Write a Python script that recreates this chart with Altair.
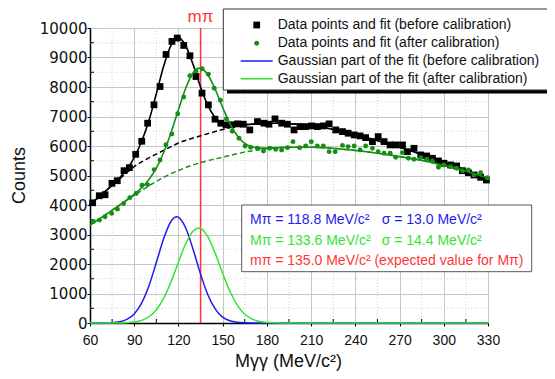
import altair as alt
import pandas as pd

# ---------------- data ----------------
black_x = [61.8, 66.3, 70.2, 74.9, 78.5, 83.1, 86.7, 91.0, 95.1, 99.1,
           103.4, 107.5, 111.6, 115.6, 119.2, 123.6, 127.8, 131.9, 136.0, 140.3,
           144.8, 148.7, 152.3, 156.2, 160.0, 164.0, 168.4, 173.6, 178.0, 181.4,
           185.5, 190.0, 193.9, 198.4, 202.5, 206.3, 210.4, 214.3, 218.3, 222.2,
           226.7, 231.3, 235.1, 239.2, 243.2, 247.0, 251.6, 255.5, 259.5, 263.6,
           267.4, 272.0, 275.3, 279.8, 284.4, 288.4, 292.3, 296.4, 300.1, 304.6,
           308.7, 312.6, 316.7, 320.5, 325.0, 328.9]
black_y = [4076, 4314, 4348, 4735, 4823, 5163, 5265, 5719, 6161, 6773,
           7395, 8016, 9103, 9545, 9660, 9409, 9059, 8356, 7792, 7395,
           6909, 6773, 6715, 6720, 6750, 6739, 6545, 6827, 6773, 6739,
           6919, 6773, 6739, 6545, 6658, 6658, 6681, 6658, 6681, 6750,
           6545, 6488, 6433, 6375, 6342, 6284, 6148, 6318, 6148, 6036,
           6036, 6036, 5808, 5922, 5697, 5662, 5584, 5493, 5415, 5357,
           5323, 5163, 5095, 5017, 4939, 4847]

green_x = [62.3, 66.4, 70.2, 74.7, 78.6, 82.8, 87.0, 91.3, 95.3, 99.1,
           103.5, 107.5, 111.5, 115.5, 119.5, 123.6, 127.8, 131.9, 136.1, 140.3,
           144.3, 148.5, 152.5, 156.5, 161.1, 165.2, 169.0, 173.6, 177.7, 181.9,
           186.0, 190.0, 193.9, 197.7, 202.2, 206.3, 210.1, 214.2, 218.3, 222.2,
           226.3, 231.3, 235.1, 239.2, 243.2, 247.0, 251.6, 255.5, 259.5, 263.6,
           267.4, 272.0, 276.0, 279.8, 284.4, 288.4, 292.3, 296.4, 300.1, 304.6,
           308.7, 312.6, 316.7, 320.5, 325.0, 329.6]
green_y = [3443, 3489, 3601, 3716, 3860, 4050, 4250, 4390, 4670, 4690,
           5200, 5527, 6040, 6405, 7095, 7660, 8380, 8540, 8617, 8430,
           7960, 7550, 6920, 6500, 6263, 6002, 5958, 5924, 5832, 5924,
           5890, 5866, 5944, 6148, 5944, 6002, 6148, 6002, 6002, 5808,
           5808, 6020, 5980, 6002, 5866, 6002, 5922, 5808, 5752, 5752,
           5618, 5775, 5584, 5550, 5605, 5550, 5493, 5279, 5357, 5300,
           5245, 5163, 5187, 5017, 5095, 4925]

fit_black_x = [60, 65, 70, 75, 80, 85, 90, 95, 100, 105, 110, 115, 119, 125, 130,
               135, 140, 145, 150, 155, 160, 170, 180, 190, 200, 210, 220, 230,
               240, 250, 260, 270, 280, 290, 300, 310, 320, 330]
fit_black_y = [4000, 4230, 4450, 4670, 4920, 5210, 5610, 6150, 6865, 7770, 8710, 9420,
               9690, 9390, 8755, 8000, 7370, 6960, 6760, 6700, 6705, 6740, 6770, 6770,
               6740, 6690, 6610, 6510, 6390, 6250, 6110, 5960, 5800, 5630, 5450, 5270,
               5080, 4880]

bg_x = [60, 70, 80, 90, 100, 110, 120, 130, 140, 150, 160, 170, 180, 190, 200,
        210, 220, 230, 240, 250, 260, 270, 280, 290, 300, 310, 320, 330]
bg_black = [4000, 4450, 4880, 5300, 5600, 5850, 6100, 6270, 6420, 6560, 6680, 6740,
            6770, 6770, 6740, 6690, 6610, 6510, 6390, 6250, 6110, 5960, 5800, 5630,
            5450, 5270, 5080, 4880]
bg_green = [3320, 3650, 3990, 4330, 4650, 4940, 5170, 5360, 5500, 5620, 5740, 5840,
            5910, 5950, 5960, 5960, 5940, 5900, 5850, 5790, 5720, 5640, 5560, 5460,
            5350, 5230, 5070, 4920]

fit_green_x = [60, 70, 80, 85, 90, 95, 100, 105, 110, 115, 120, 125, 130, 134, 140,
               145, 150, 155, 160, 165, 170, 175, 180, 190, 200, 210, 220, 230, 240,
               250, 260, 270, 280, 290, 300, 310, 320, 330]
fit_green_y = [3320, 3650, 3993, 4171, 4363, 4579, 4862, 5248, 5781, 6459, 7232, 7964,
               8481, 8640, 8417, 7914, 7304, 6747, 6339, 6088, 5972, 5927, 5928, 5950,
               5960, 5960, 5940, 5900, 5850, 5790, 5720, 5640, 5560, 5460, 5350, 5230,
               5070, 4920]

gauss_blue_x = [60, 70, 75, 80, 85, 90, 95, 100, 105, 110, 115, 119, 125, 130, 135,
                140, 145, 150, 155, 160, 165, 170, 180, 330]
gauss_blue_y = [0, 2, 10, 42, 122, 309, 673, 1265, 2050, 2863, 3450, 3600, 3212, 2485,
                1657, 951, 472, 202, 74, 24, 7, 2, 0, 0]

gauss_green_x = [60, 80, 85, 90, 95, 100, 105, 110, 115, 120, 125, 130, 134, 140, 145,
                 150, 155, 160, 165, 170, 175, 180, 190, 200, 330]
gauss_green_y = [0, 3, 11, 33, 89, 212, 448, 841, 1399, 2062, 2694, 3121, 3219, 2917,
                 2354, 1684, 1067, 599, 298, 132, 52, 18, 1, 0, 0]

m_pi = 135.0
x_ticks = [60, 90, 120, 150, 180, 210, 240, 270, 300, 330]
x_minor = [75, 105, 135, 165, 195, 225, 255, 285, 315]
y_ticks = [0, 1000, 2000, 3000, 4000, 5000, 6000, 7000, 8000, 9000, 10000]
y_minor = [500, 1500, 2500, 3500, 4500, 5500, 6500, 7500, 8500, 9500]

legend_labels = ["Data points and fit (before calibration)",
                 "Data points and fit (after calibration)",
                 "Gaussian part of the fit (before calibration)",
                 "Gaussian part of the fit (after calibration)"]
info_lines = [("M\u03c0 = 118.8 MeV/c\u00b2", "\u03c3 = 13.0 MeV/c\u00b2"),
              ("M\u03c0 = 133.6 MeV/c\u00b2", "\u03c3 = 14.4 MeV/c\u00b2"),
              ("m\u03c0 = 135.0 MeV/c\u00b2 (expected value for M\u03c0)", "")]

# ---------------- styling ----------------
W, H = 398, 295
FONT = "Liberation Sans"
C_BLACK = "#000000"
C_GREEN = "#138f13"
C_BLUE = "#1c1cf0"
C_LIME = "#33e333"
C_RED = "#ff3535"

xs = alt.Scale(domain=[60, 330], nice=False, zero=False)
ys = alt.Scale(domain=[0, 10000], nice=False, zero=False)
xaxis = alt.Axis(values=x_ticks, title=None, grid=True, gridColor="#c6c6c6",
                 domainColor="black", domainWidth=1.5, tickColor="black", tickSize=3,
                 labelFont=FONT, labelFontSize=14, labelColor="#111", labelPadding=7,
                 labelFlush=False, format="d")
yaxis = alt.Axis(values=y_ticks, title=None, grid=True, gridColor="#c6c6c6",
                 domainColor="black", domainWidth=1.5, tickColor="black", tickSize=3,
                 labelFont="DejaVu Sans", labelFontSize=15, labelColor="#111",
                 labelPadding=0, labelFlush=False, format="d")


def X(f):
    return alt.X(f, type="quantitative", scale=xs, axis=xaxis)


def Y(f):
    return alt.Y(f, type="quantitative", scale=ys, axis=yaxis)


one = pd.DataFrame({"d": [0]})

# grids (minor)
minor_x = alt.Chart(pd.DataFrame({"x": x_minor})).mark_rule(
    color="#d2d2d2", strokeDash=[1, 2], strokeWidth=1).encode(
    x=X("x"), y=alt.value(0), y2=alt.value(H))
minor_y = alt.Chart(pd.DataFrame({"y": y_minor})).mark_rule(
    color="#d2d2d2", strokeDash=[1, 2], strokeWidth=1).encode(
    y=Y("y"), x=alt.value(0), x2=alt.value(W))
# inward minor ticks
tick_x = alt.Chart(pd.DataFrame({"x": x_minor})).mark_rule(color="black").encode(
    x=X("x"), y=alt.value(H - 4), y2=alt.value(H))
tick_y = alt.Chart(pd.DataFrame({"y": y_minor})).mark_rule(color="black").encode(
    y=Y("y"), x=alt.value(0), x2=alt.value(4))

red_line = alt.Chart(pd.DataFrame({"x": [m_pi], "y": [0], "y2": [10000]})).mark_rule(
    color=C_RED, strokeWidth=1.5).encode(x=X("x"), y=Y("y"), y2="y2:Q")

g_blue = alt.Chart(pd.DataFrame({"x": gauss_blue_x, "y": gauss_blue_y})).mark_line(
    color=C_BLUE, strokeWidth=1.5, interpolate="monotone").encode(x=X("x"), y=Y("y"))
g_green = alt.Chart(pd.DataFrame({"x": gauss_green_x, "y": gauss_green_y})).mark_line(
    color=C_LIME, strokeWidth=1.5, interpolate="monotone").encode(x=X("x"), y=Y("y"))

bgb = alt.Chart(pd.DataFrame({"x": bg_x, "y": bg_black})).mark_line(
    color=C_BLACK, strokeWidth=1.5, strokeDash=[5, 3], interpolate="monotone").encode(
    x=X("x"), y=Y("y"))
bgg = alt.Chart(pd.DataFrame({"x": bg_x, "y": bg_green})).mark_line(
    color=C_GREEN, strokeWidth=1.5, strokeDash=[5, 3], interpolate="monotone").encode(
    x=X("x"), y=Y("y"))

fitb = alt.Chart(pd.DataFrame({"x": fit_black_x, "y": fit_black_y})).mark_line(
    color=C_BLACK, strokeWidth=1.6, interpolate="monotone").encode(x=X("x"), y=Y("y"))
fitg = alt.Chart(pd.DataFrame({"x": fit_green_x, "y": fit_green_y})).mark_line(
    color=C_GREEN, strokeWidth=1.6, interpolate="monotone").encode(x=X("x"), y=Y("y"))

pts_b = alt.Chart(pd.DataFrame({"x": black_x, "y": black_y})).mark_square(
    color=C_BLACK, size=46, opacity=1).encode(x=X("x"), y=Y("y"))
pts_g = alt.Chart(pd.DataFrame({"x": green_x, "y": green_y})).mark_circle(
    color=C_GREEN, size=24, opacity=1).encode(x=X("x"), y=Y("y"))

# "m pi" label above the red line
mpi_label = alt.Chart(pd.DataFrame({"x": [m_pi]})).mark_text(
    text="m\u03c0", color=C_RED, font=FONT, fontSize=17, baseline="middle",
    align="center").encode(x=X("x"), y=alt.value(-11))

# axis titles
ytitle = alt.Chart(one).mark_text(text="Counts", font=FONT, fontSize=18, angle=270,
                                  align="center", baseline="middle", color="#111").encode(
    x=alt.value(-70), y=alt.value(H / 2))
xtitle = alt.Chart(one).mark_text(text="M\u03b3\u03b3 (MeV/c\u00b2)", font=FONT, fontSize=18,
                                  align="center", baseline="alphabetic", color="#111").encode(
    x=alt.value(198.5), y=alt.value(339))

# legend box
leg_shadow = alt.Chart(one).mark_rect(color="black").encode(
    x=alt.value(137), x2=alt.value(490), y=alt.value(-15.5), y2=alt.value(65.5))
leg_box = alt.Chart(one).mark_rect(fill="white", stroke="#333", strokeWidth=1).encode(
    x=alt.value(133.3), x2=alt.value(486), y=alt.value(-19), y2=alt.value(62))
row_y = [-3, 15.3, 33, 50.7]
leg_sq = alt.Chart(one).mark_square(color=C_BLACK, size=46, opacity=1).encode(
    x=alt.value(166.7), y=alt.value(row_y[0]))
leg_ci = alt.Chart(one).mark_circle(color=C_GREEN, size=24, opacity=1).encode(
    x=alt.value(166.7), y=alt.value(row_y[1]))
leg_l1 = alt.Chart(one).mark_rule(color=C_BLUE, strokeWidth=1.5).encode(
    x=alt.value(150.7), x2=alt.value(182.7), y=alt.value(row_y[2]))
leg_l2 = alt.Chart(one).mark_rule(color=C_LIME, strokeWidth=1.5).encode(
    x=alt.value(150.7), x2=alt.value(182.7), y=alt.value(row_y[3]))
leg_texts = [alt.Chart(one).mark_text(text=t, font=FONT, fontSize=14, align="left",
                                      baseline="middle", color="#111").encode(
    x=alt.value(187.7), y=alt.value(yy)) for t, yy in zip(legend_labels, row_y)]

# info box
info_box = alt.Chart(one).mark_rect(fill="white", stroke="#555", strokeWidth=1).encode(
    x=alt.value(151.7), x2=alt.value(441.7), y=alt.value(177), y2=alt.value(243.7))
info_colors = [C_BLUE, C_LIME, C_RED]
info_y = [192, 212.7, 232.7]
info_layers = []
for (a, b), col, yy in zip(info_lines, info_colors, info_y):
    info_layers.append(alt.Chart(one).mark_text(text=a, font=FONT, fontSize=14, align="left",
                                                baseline="middle", color=col).encode(
        x=alt.value(160), y=alt.value(yy)))
    if b:
        info_layers.append(alt.Chart(one).mark_text(text=b, font=FONT, fontSize=14,
                                                    align="left", baseline="middle",
                                                    color=col).encode(
            x=alt.value(291.7), y=alt.value(yy)))

chart = alt.layer(
    minor_x, minor_y, tick_x, tick_y, red_line, g_blue, g_green, bgb, bgg,
    fitb, pts_b, fitg, pts_g, mpi_label, ytitle, xtitle,
    leg_shadow, leg_box, leg_sq, leg_ci, leg_l1, leg_l2, *leg_texts,
    info_box, *info_layers
).properties(
    width=W, height=H,
    autosize=alt.AutoSizeParams(type="none"),
    padding={"left": 82, "top": 20, "right": 59, "bottom": 48},
    background="white",
).configure_view(strokeWidth=0)

chart.save("out.html", embed_options={"renderer": "svg", "actions": False})
